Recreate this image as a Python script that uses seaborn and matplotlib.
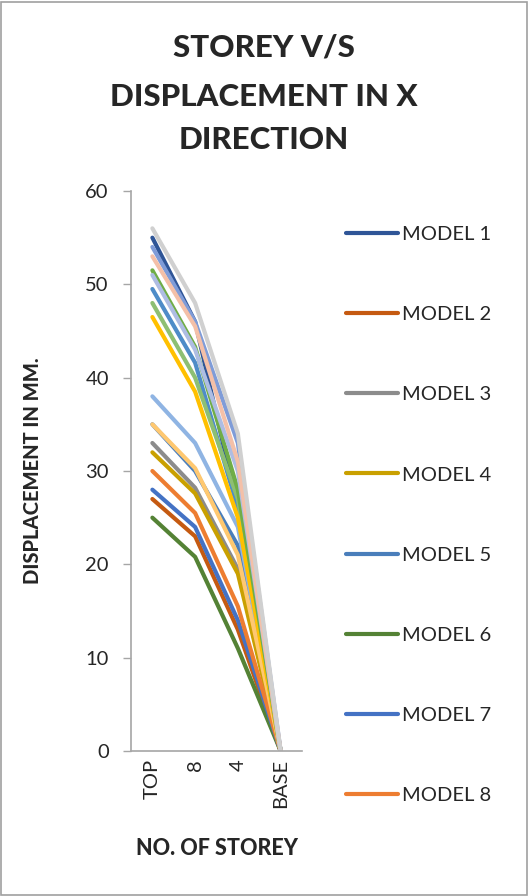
import matplotlib
matplotlib.use("Agg")
import matplotlib.pyplot as plt
import seaborn as sns
import pandas as pd
from matplotlib.lines import Line2D
from matplotlib.patches import Rectangle

storeys = ["TOP", "8", "4", "BASE"]

models = ["MODEL 1", "MODEL 2", "MODEL 3", "MODEL 4", "MODEL 5", "MODEL 6",
          "MODEL 7", "MODEL 8", "MODEL 9", "MODEL 10", "MODEL 11", "MODEL 12",
          "MODEL 13", "MODEL 14", "MODEL 15", "MODEL 16", "MODEL 17", "MODEL 18"]

m1 = [55.0, 46.0, 26.0, 0]
m2 = [27.0, 23.0, 13.0, 0]
m3 = [33.0, 28.2, 19.5, 0]
m4 = [32.0, 27.6, 19.0, 0]
m5 = [35.0, 30.0, 22.0, 0]
m6 = [25.0, 20.8, 11.0, 0]
m7 = [28.0, 24.0, 14.0, 0]
m8 = [30.0, 25.5, 15.5, 0]
m9 = [38.0, 33.0, 24.0, 0]
m10 = [35.0, 30.3, 21.0, 0]
m11 = [49.5, 41.6, 26.0, 0]
m12 = [48.0, 40.0, 27.0, 0]
m13 = [46.5, 38.5, 25.0, 0]
m14 = [51.5, 43.3, 28.0, 0]
m15 = [54.0, 46.0, 33.0, 0]
m16 = [51.0, 43.0, 30.0, 0]
m17 = [53.0, 45.5, 31.0, 0]
m18 = [56.0, 48.0, 34.0, 0]

values = [m1, m2, m3, m4, m5, m6, m7, m8, m9, m10, m11, m12, m13, m14, m15, m16, m17, m18]

colors = ["#2F5597", "#C55A11", "#8C8C8C", "#C9A000", "#4A7EBB", "#548235",
          "#4472C4", "#ED7D31", "#8FB4E3", "#FFC870", "#4E8CC8", "#8DBF73",
          "#FFC000", "#70AD47", "#7F9CD8", "#AEBDE3", "#F4C0A8", "#D0D0D0"]

rows = []
for name, vals in zip(models, values):
    for s, v in zip(storeys, vals):
        rows.append({"storey": s, "disp": v, "model": name})
df = pd.DataFrame(rows)

sns.set_theme(style="white")
plt.rcParams['font.family'] = ['Lato', 'DejaVu Sans']

fig = plt.figure(figsize=(5.28, 8.96), dpi=100)
ax = fig.add_axes([131/528, 1-751/896, (302-131)/528, (751-191)/896])

palette = dict(zip(models, colors))
sns.lineplot(data=df, x="storey", y="disp", hue="model", palette=palette,
             sort=False, linewidth=3.0, ax=ax, legend=False)

ax.set_ylim(0, 60)
ax.set_xlim(-0.5, 3.5)
ax.set_yticks(range(0, 61, 10))
ax.tick_params(axis='y', labelsize=14.5, length=6, width=1, color="#A6A6A6",
               direction='out', left=True, pad=10)
ax.tick_params(axis='x', labelsize=14.5, length=0, pad=6)
for lab in ax.get_xticklabels():
    lab.set_rotation(90)
for side in ["top", "right"]:
    ax.spines[side].set_visible(False)
for side in ["left", "bottom"]:
    ax.spines[side].set_color("#A6A6A6")
    ax.spines[side].set_linewidth(1.2)

ax.set_xlabel("NO. OF STOREY", fontsize=15.5, fontweight="black", labelpad=21)
ax.set_ylabel("DISPLACEMENT IN MM.", fontsize=14.5, fontweight="black", labelpad=31)

for txt, yy in [("STOREY V/S", 47), ("DISPLACEMENT IN X", 97), ("DIRECTION", 140)]:
    fig.text(0.5, 1-yy/896, txt, ha="center", va="center",
             fontsize=22.5, fontweight="black")

handles = [Line2D([0], [0], color=c, lw=3) for c in colors[:8]]
fig.legend(handles, models[:8], loc="upper left", bbox_to_anchor=(338/528, 1-218/896),
           frameon=False, fontsize=14.5, handlelength=2.6, handletextpad=0.2,
           labelspacing=3.13, borderaxespad=0)

fig.patches.append(Rectangle((0.002, 0.001), 0.996, 0.997, transform=fig.transFigure,
                             fill=False, edgecolor="#A0A0A0", linewidth=1.2))

fig.savefig("out.png", dpi=100)
